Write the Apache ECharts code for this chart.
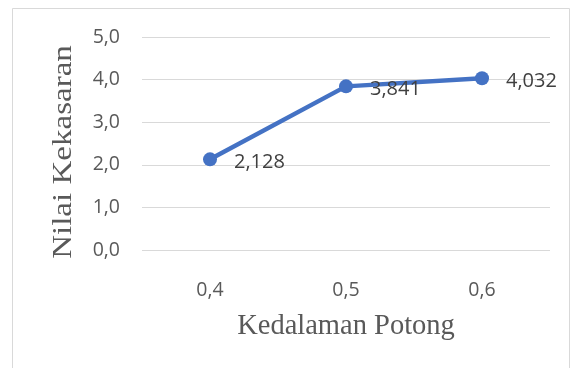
<!DOCTYPE html>
<html>
<head>
<meta charset="utf-8">
<script src="https://cdn.jsdelivr.net/npm/echarts@6/dist/echarts.min.js"></script>
<style>
  html, body { margin: 0; padding: 0; background: #fff; }
  #chart { width: 571px; height: 368px; }
</style>
</head>
<body>
<div id="chart"></div>
<script>
// Cutting depth categories and measured roughness values
const depthLabels = ['0,4', '0,5', '0,6'];
const roughness = [2.128, 3.841, 4.032];
const yTicks = [0, 1, 2, 3, 4, 5];
const xTitle = 'Kedalaman Potong';
const yTitle = 'Nilai Kekasaran';

const fmt = v => v.toFixed(3).replace('.', ',');
const serif = 'Liberation Serif, Times New Roman, serif';
const sans = 'Open Sans, sans-serif';

const chart = echarts.init(document.getElementById('chart'));
chart.setOption({
  animation: false,
  backgroundColor: '#ffffff',
  graphic: [{
    type: 'rect',
    shape: { x: 12.5, y: 8.5, width: 557, height: 380 },
    style: { fill: 'none', stroke: '#d9d9d9', lineWidth: 1 },
    silent: true
  }, {
    // vertical axis title, slightly stretched along its length
    type: 'text',
    x: 64, y: 152,
    rotation: Math.PI / 2,
    scaleX: 1.18,
    style: {
      text: yTitle, fill: '#595959', fontSize: 28, fontFamily: serif,
      align: 'center', verticalAlign: 'middle'
    },
    silent: true
  }],
  grid: { left: 142, right: 21, top: 37, bottom: 118 },
  xAxis: {
    type: 'category',
    data: depthLabels,
    boundaryGap: true,
    axisLine: { show: false },
    axisTick: { show: false },
    axisLabel: { color: '#595959', fontSize: 19.5, fontFamily: sans, margin: 30 },
    name: xTitle,
    nameLocation: 'middle',
    nameGap: 62,
    nameTextStyle: { color: '#595959', fontSize: 28.5, fontFamily: serif }
  },
  yAxis: {
    type: 'value',
    min: yTicks[0],
    max: yTicks[yTicks.length - 1],
    interval: 1,
    axisLine: { show: false },
    axisTick: { show: false },
    splitLine: { lineStyle: { color: '#d9d9d9', width: 1 } },
    axisLabel: {
      color: '#595959', fontSize: 19.5, fontFamily: sans, margin: 22,
      formatter: v => v.toFixed(1).replace('.', ',')
    }
  },
  series: [{
    type: 'line',
    data: roughness,
    symbol: 'circle',
    symbolSize: 14,
    lineStyle: { color: '#4472c4', width: 4.5 },
    itemStyle: { color: '#4472c4' },
    label: {
      show: true,
      position: 'right',
      distance: 17,
      offset: [0, 3],
      color: '#404040',
      fontSize: 20,
      fontFamily: sans,
      formatter: p => fmt(p.value)
    }
  }]
});
</script>
</body>
</html>
